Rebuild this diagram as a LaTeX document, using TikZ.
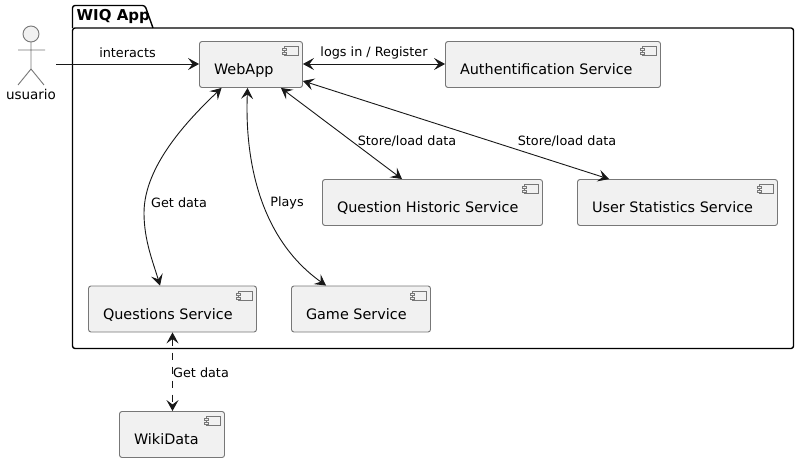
\documentclass[tikz,border=0pt]{standalone}
\usepackage{fontspec}
\setmainfont{DejaVu Sans}
\usetikzlibrary{arrows.meta}
\definecolor{boxfill}{HTML}{F1F1F1}
\definecolor{boxline}{HTML}{777777}
\definecolor{ink}{HTML}{181818}
\newcommand{\comptext}[2]{\makebox[#1][l]{\hspace*{14.5pt}\raisebox{-10pt}[0pt][0pt]{\fontsize{14.4pt}{16pt}\selectfont #2}}}
\newcommand{\compicon}[1]{%
  \draw[boxline,line width=.7pt] ([xshift=-19pt,yshift=-5.5pt]#1.north east) rectangle ([xshift=-5pt,yshift=-14.5pt]#1.north east);
  \draw[boxline,line width=.7pt,fill=boxfill] ([xshift=-21pt,yshift=-7.5pt]#1.north east) rectangle ([xshift=-16.5pt,yshift=-9.5pt]#1.north east);
  \draw[boxline,line width=.7pt,fill=boxfill] ([xshift=-21pt,yshift=-11.5pt]#1.north east) rectangle ([xshift=-16.5pt,yshift=-13.5pt]#1.north east);
}
\tikzset{
  x=1pt,y=-1pt,
  component/.style={draw=boxline,fill=boxfill,line width=.9pt,rounded corners=2.5pt,minimum height=46pt,inner sep=0pt,text=black},
  link/.style={draw=ink,line width=.9pt,{Stealth[length=11pt,width=12pt,inset=4.5pt,fill=ink]}-{Stealth[length=11pt,width=12pt,inset=4.5pt,fill=ink]}},
  oneway/.style={draw=ink,line width=.9pt,-{Stealth[length=11pt,width=12pt,inset=4.5pt,fill=ink]}},
  edgelabel/.style={font=\fontsize{12.8pt}{15pt}\selectfont,inner sep=0pt,text=black},
  pkg/.style={draw=black,line width=1.4pt,line join=round},
  actorline/.style={draw=boxline,line width=.9pt},
}
\begin{document}
\begin{tikzpicture}
\useasboundingbox (0,0) rectangle (799,462);
\path[fill=white] (0,0) rectangle (799,462);
% package
\draw[pkg] (72.5,28) -- (72.5,9) [rounded corners=2.5pt] -- (72.5,5.5) -- (145,5.5) [sharp corners] -- (153,28);
\draw[pkg,rounded corners=2.5pt] (72.5,28) -- (793.5,28) -- (793.5,348.5) -- (72.5,348.5) -- cycle;
\node[font=\bfseries\fontsize{15pt}{17pt}\selectfont,inner sep=0pt,anchor=base west] (pkgname) at (76.5,21) {WIQ App};
% actor
\draw[actorline,fill=boxfill] (31,34) circle (8);
\draw[actorline] (31,42) -- (31,69) (18,50) -- (45,50) (31,69) -- (18,85) (31,69) -- (44,85);
\node[font=\fontsize{13.5pt}{16pt}\selectfont,inner sep=0pt,anchor=base] (usuario) at (31,100) {usuario};
\coordinate (actorhand) at (56,64);
% components
\node[component] (web) at (251,64.5) {\comptext{103pt}{WebApp}};
\node[component] (auth) at (553,64.5) {\comptext{215pt}{Authentification Service}};
\node[component] (hist) at (432.5,202.5) {\comptext{220pt}{Question Historic Service}};
\node[component] (stats) at (677.5,202.5) {\comptext{200pt}{User Statistics Service}};
\node[component] (quest) at (172.5,309) {\comptext{168pt}{Questions Service}};
\node[component] (game) at (361,309) {\comptext{139pt}{Game Service}};
\node[component] (wiki) at (172,434.5) {\comptext{105pt}{WikiData}};
\compicon{web}\compicon{auth}\compicon{hist}\compicon{stats}\compicon{quest}\compicon{game}\compicon{wiki}
% connectors
\draw[oneway] (actorhand) -- (web.west |- actorhand);
\draw[link] (web.east |- 0,64) -- (auth.west |- 0,64);
\draw[link] ([xshift=-22pt]web.south east) -- ([xshift=80pt]hist.north west);
\draw[link] ([yshift=7pt]web.south east) -- ([xshift=32pt]stats.north west);
\draw[link] ([xshift=22.5pt]web.south west) .. controls (190,118) and (144,165) .. (144,213) .. controls (144,240) and (153,262) .. ([xshift=72pt]quest.north west);
\draw[link] ([xshift=48.5pt]web.south west) .. controls (245,150) and (255,235) .. ([xshift=35pt]game.north west);
\draw[link,dashed,dash pattern=on 7pt off 7pt] (quest.south) -- (wiki.north -| quest.south);
% labels
\node[edgelabel] (l1) at (127.5,52.5) {interacts};
\node[edgelabel] (l2) at (374,52.5) {logs in / Register};
\node[edgelabel] (l3) at (407,141.5) {Store/load data};
\node[edgelabel] (l4) at (567,141.5) {Store/load data};
\node[edgelabel] (l5) at (179,203) {Get data};
\node[edgelabel] (l6) at (287,203) {Plays};
\node[edgelabel] (l7) at (201,372.5) {Get data};
\end{tikzpicture}
\end{document}
